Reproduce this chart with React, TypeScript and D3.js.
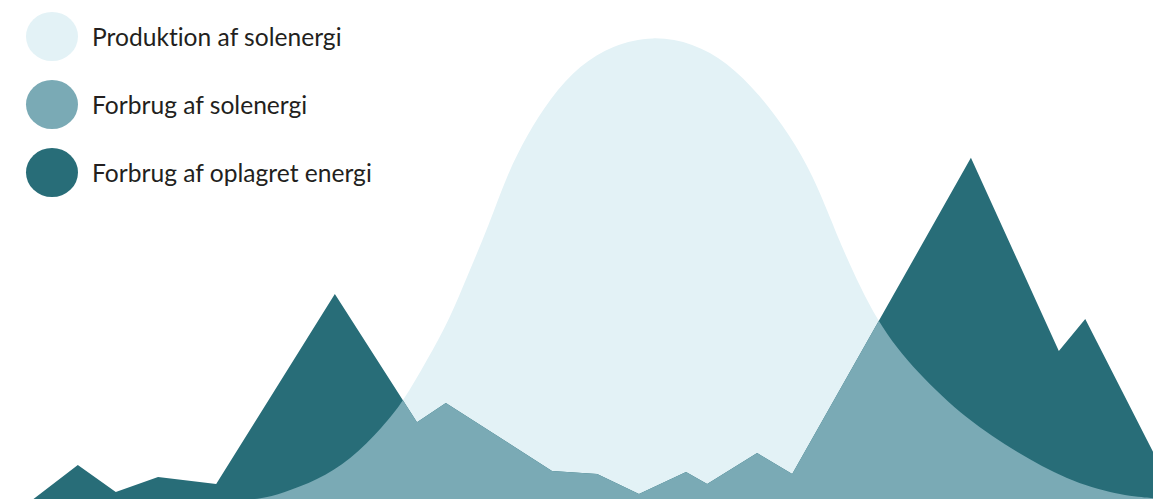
import React from "react";
import * as d3 from "d3";

const W = 1153;
const H = 499;

// Production of solar energy (hour of day, relative value)
const productionHours = [5.0, 5.41, 5.89, 6.6, 7.29, 7.97, 8.39, 8.89, 9.37, 9.72, 10.18, 10.55, 10.97, 11.45, 12.07, 12.76, 13.59, 14.43, 15.13, 15.82, 16.44, 16.92, 17.34, 17.55, 18.25, 19.09, 20.13, 21.17, 22.21, 23.25, 24.0];
const productionValues = [0, 0.2, 1.5, 4.3, 8.6, 15.8, 21.2, 30.2, 39.3, 48.2, 59.4, 70.2, 78.8, 86.8, 94.0, 98.3, 100.3, 98.7, 94.6, 87.5, 78.8, 70.2, 59.4, 54.0, 38.2, 27.4, 17.3, 10.2, 4.3, 1.1, 0.4];

// Consumption (hour of day, relative value)
const consumptionHours = [0.67, 1.62, 2.41, 3.29, 4.5, 6.97, 8.68, 9.28, 11.49, 12.43, 13.3, 14.28, 14.72, 15.76, 16.49, 20.21, 22.04, 22.59, 24.0];
const consumptionValues = [0, 7.56, 1.73, 4.97, 3.46, 44.5, 16.8, 20.95, 6.26, 5.6, 1.3, 6.05, 3.46, 10.15, 5.6, 73.9, 32.2, 39.1, 10.4];

const legendLabels = ["Produktion af solenergi", "Forbrug af solenergi", "Forbrug af oplagret energi"];
const colors = ["#e3f2f6", "#7aaab5", "#286d78"];

export default function App() {
  const x = d3.scaleLinear().domain([0, 24]).range([0, W]);
  const y = d3.scaleLinear().domain([0, 100]).range([500, 37]);

  const production = productionHours.map((h, i) => ({ h, v: productionValues[i] }));
  const consumption = consumptionHours.map((h, i) => ({ h, v: consumptionValues[i] }));

  const prodArea = d3
    .area<{ h: number; v: number }>()
    .x((d) => x(d.h))
    .y0(y(0))
    .y1((d) => y(d.v))
    .curve(d3.curveBasis);

  const consArea = d3
    .area<{ h: number; v: number }>()
    .x((d) => x(d.h))
    .y0(y(0))
    .y1((d) => y(d.v))
    .curve(d3.curveLinear);

  const prodPath = prodArea(production) || "";
  const consPath = consArea(consumption) || "";

  return (
    <svg
      width={W}
      height={H}
      style={{ position: "absolute", left: 0, top: 0, display: "block" }}
    >
      <defs>
        <clipPath id="prodClip">
          <path d={prodPath} />
        </clipPath>
      </defs>
      <path d={prodPath} fill={colors[0]} />
      <path d={consPath} fill={colors[2]} />
      <path d={consPath} fill={colors[1]} clipPath="url(#prodClip)" />
      {legendLabels.map((label, i) => (
        <g key={label} transform={`translate(0, ${36.5 + i * 68})`}>
          <ellipse cx={52} cy={0} rx={26} ry={24.5} fill={colors[i]} />
          <text
            x={92}
            y={9.5}
            fontFamily="Lato, 'Open Sans', sans-serif"
            fontSize={24.6}
            fill="#231f20"
            style={{ fontVariantLigatures: "none" }}
          >
            {label}
          </text>
        </g>
      ))}
    </svg>
  );
}
